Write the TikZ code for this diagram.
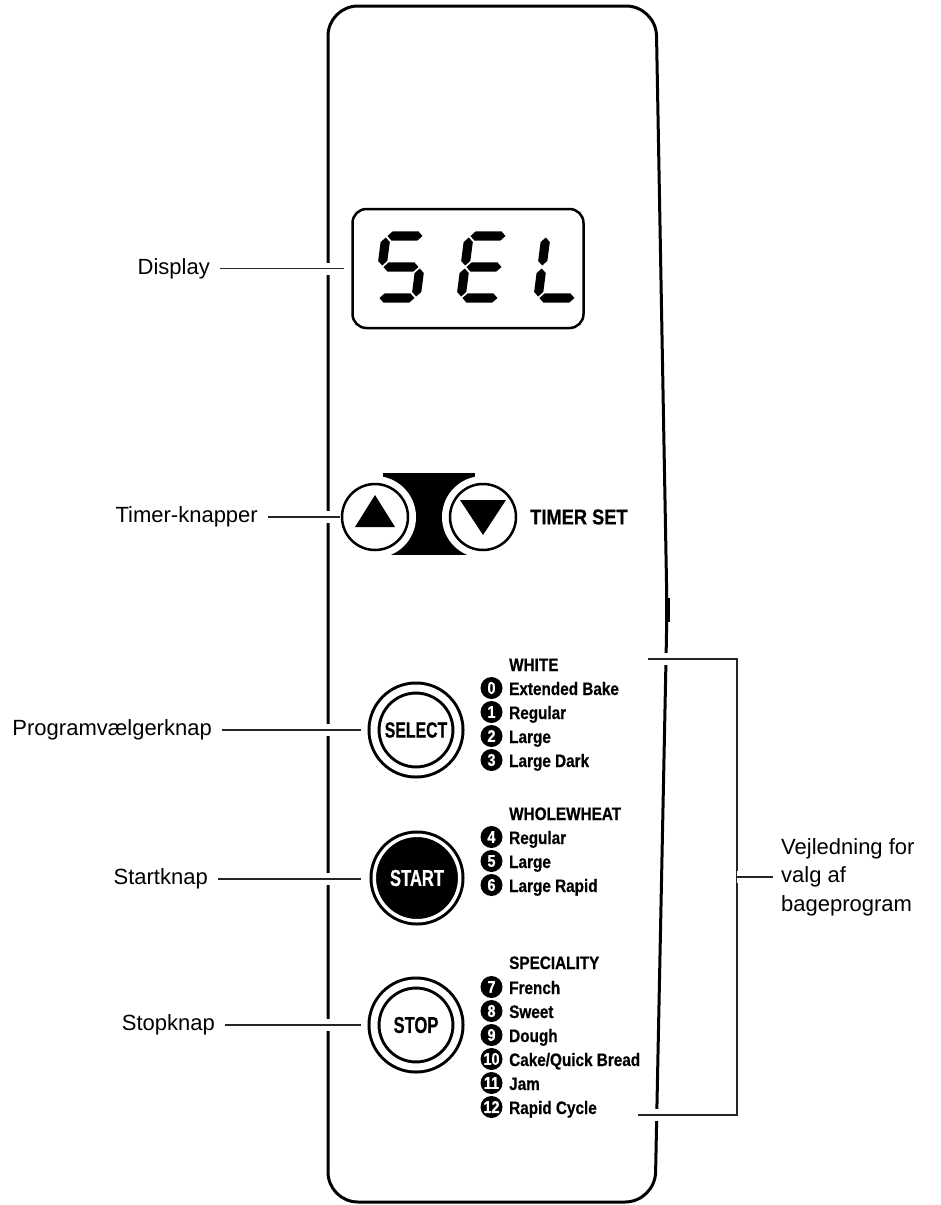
\documentclass[tikz,border=0pt]{standalone}
\usepackage{fontspec}
\setmainfont{Liberation Sans}
\newfontfamily\panelfont[FakeStretch=0.85, FakeBold=0.6]{Liberation Sans}
\newfontfamily\btnfont[FakeStretch=0.72, FakeBold=0.6]{Liberation Sans}
\usetikzlibrary{positioning}
\newcommand{\segH}[3]{\fill (#1,#3) -- (#1+4.6,#3-4.6) -- (#2-4.6,#3-4.6) -- (#2,#3) -- (#2-4.6,#3+4.6) -- (#1+4.6,#3+4.6) -- cycle;}
\newcommand{\segV}[3]{\fill (#1,#2) -- (#1+4.6,#2+4.6) -- (#1+4.6,#3-4.6) -- (#1,#3) -- (#1-4.6,#3-4.6) -- (#1-4.6,#2+4.6) -- cycle;}

\begin{document}
\begin{tikzpicture}[x=1pt, y=-1pt,
  lbl/.style={anchor=east, inner xsep=10pt, inner ysep=2pt, font=\fontsize{22}{26}\selectfont},
  lead/.style={line width=1.2pt, draw=black!85, preaction={draw=white, line width=12pt}},
  panel/.style={line width=3pt},
  dispbox/.style={draw, line width=2.5pt, rounded corners=14pt, minimum width=231pt, minimum height=119pt},
  tbtn/.style={circle, minimum size=66pt, inner sep=0pt, outer sep=0pt, fill=white, draw=white, line width=6.75pt, double=black, double distance=2.5pt},
  btn/.style={circle, draw, line width=3pt, double=white, double distance=7pt, minimum size=84pt, inner sep=0pt, outer sep=0pt, font=\btnfont\bfseries\fontsize{23}{23}\selectfont},
  startbtn/.style={btn, fill=black, double distance=3.5pt, minimum size=85.5pt, text=white},
  num/.style={circle, fill=black, text=white, inner sep=0pt, minimum size=22pt, font=\panelfont\bfseries\fontsize{17}{17}\selectfont},
  item/.style={anchor=base west, inner sep=0pt, font=\panelfont\bfseries\fontsize{18}{20}\selectfont},
  tset/.style={inner sep=0pt, font=\panelfont\bfseries\fontsize{21.5}{22}\selectfont}]
\useasboundingbox (0,0) rectangle (941,1205);

\draw[panel, rounded corners=30pt] (328,600) -- (328,6) -- (656,6) -- (667,610) -- (655,1202) -- (328,1202) -- cycle;
\draw[line width=3pt] (668.5,598) -- (668.5,622);

\node[dispbox] (dbox) at (468,268.5) {};
\begin{scope}[shift={(386,236)}, xslant=0.13]
\segH{1.5}{36.5}{0} \segV{0}{1.5}{29.5} \segH{1.5}{36.5}{31} \segV{38}{32.5}{60.5} \segH{1.5}{36.5}{62}
\end{scope}
\begin{scope}[shift={(469,236)}, xslant=0.13]
\segH{1.5}{36.5}{0} \segV{0}{1.5}{29.5} \segH{1.5}{36.5}{31} \segV{0}{32.5}{60.5} \segH{1.5}{36.5}{62}
\end{scope}
\begin{scope}[shift={(546,236)}, xslant=0.13]
\segV{0}{1.5}{29.5} \segV{0}{32.5}{60.5} \segH{1.5}{36.5}{62}
\end{scope}

\fill (383,473) rectangle (475,555);
\node[tbtn] (tup) at (375,517) {};
\node[tbtn] (tdown) at (483,517) {};
\fill ([shift={(-20,10)}]tup.center) -- ([shift={(20,10)}]tup.center) -- ([shift={(0,-22)}]tup.center) -- cycle;
\fill ([shift={(-23,-17)}]tdown.center) -- ([shift={(23,-17)}]tdown.center) -- ([shift={(0,18)}]tdown.center) -- cycle;
\node[tset, right=14pt of tdown] (timerset) {TIMER SET};

\node[btn, font=\btnfont\bfseries\fontsize{22}{22}\selectfont] (select) at (416,730) {SELECT};
\node[startbtn] (start) at (417,878) {START};
\node[btn] (stop) at (416,1025) {STOP};

\node[item] (hwhite) at (509,671) {WHITE};
\node[item] (hwheat) at (509,820) {WHOLEWHEAT};
\node[item] (hspec) at (509,969) {SPECIALITY};
\foreach \n/\y/\t in {0/695/Extended Bake, 1/719/Regular, 2/743/Large, 3/767/Large Dark,
  4/844/Regular, 5/868/Large, 6/892/Large Rapid,
  7/994/French, 8/1018/Sweet, 9/1042/Dough, 10/1066/{Cake/Quick Bread}, 11/1090/Jam, 12/1114/Rapid Cycle}{
  \node[num] (n\n) at (491.5,\y-7) {\n};
  \node[item] (t\n) at (509,\y) {\t};
}

\node[lbl] (ldisp) at (220,268.5) {Display};
\node[lbl] (ltimer) at (268,517) {Timer-knapper};
\node[lbl] (lprog) at (222,730) {Programvælgerknap};
\node[lbl] (lstart) at (218,879) {Startknap};
\node[lbl] (lstop) at (225,1025) {Stopknap};
\draw[lead] (ldisp.east) -- ([xshift=-7pt]dbox.west);
\draw[lead] (ltimer.east) -- ([xshift=-2pt]tup.west);
\draw[lead] (lprog.east) -- ([xshift=-13pt]select.west);
\draw[lead] (lstart.east) -- ([xshift=-13pt]start.west |- lstart.east);
\draw[lead] (lstop.east) -- ([xshift=-13pt]stop.west);

\node[anchor=west, inner xsep=8pt, align=left, font=\fontsize{22}{28.5}\selectfont] (vej) at (773,877) {Vejledning for\\valg af\\bageprogram};
\coordinate (btop) at (648,659);
\coordinate (bbot) at (638,1115);
\coordinate (bmid) at (737,877);
\draw[lead] (btop) -- (btop -| bmid) -- (bbot -| bmid) -- (bbot);
\draw[lead] (bmid) -- (vej);
\end{tikzpicture}
\end{document}
